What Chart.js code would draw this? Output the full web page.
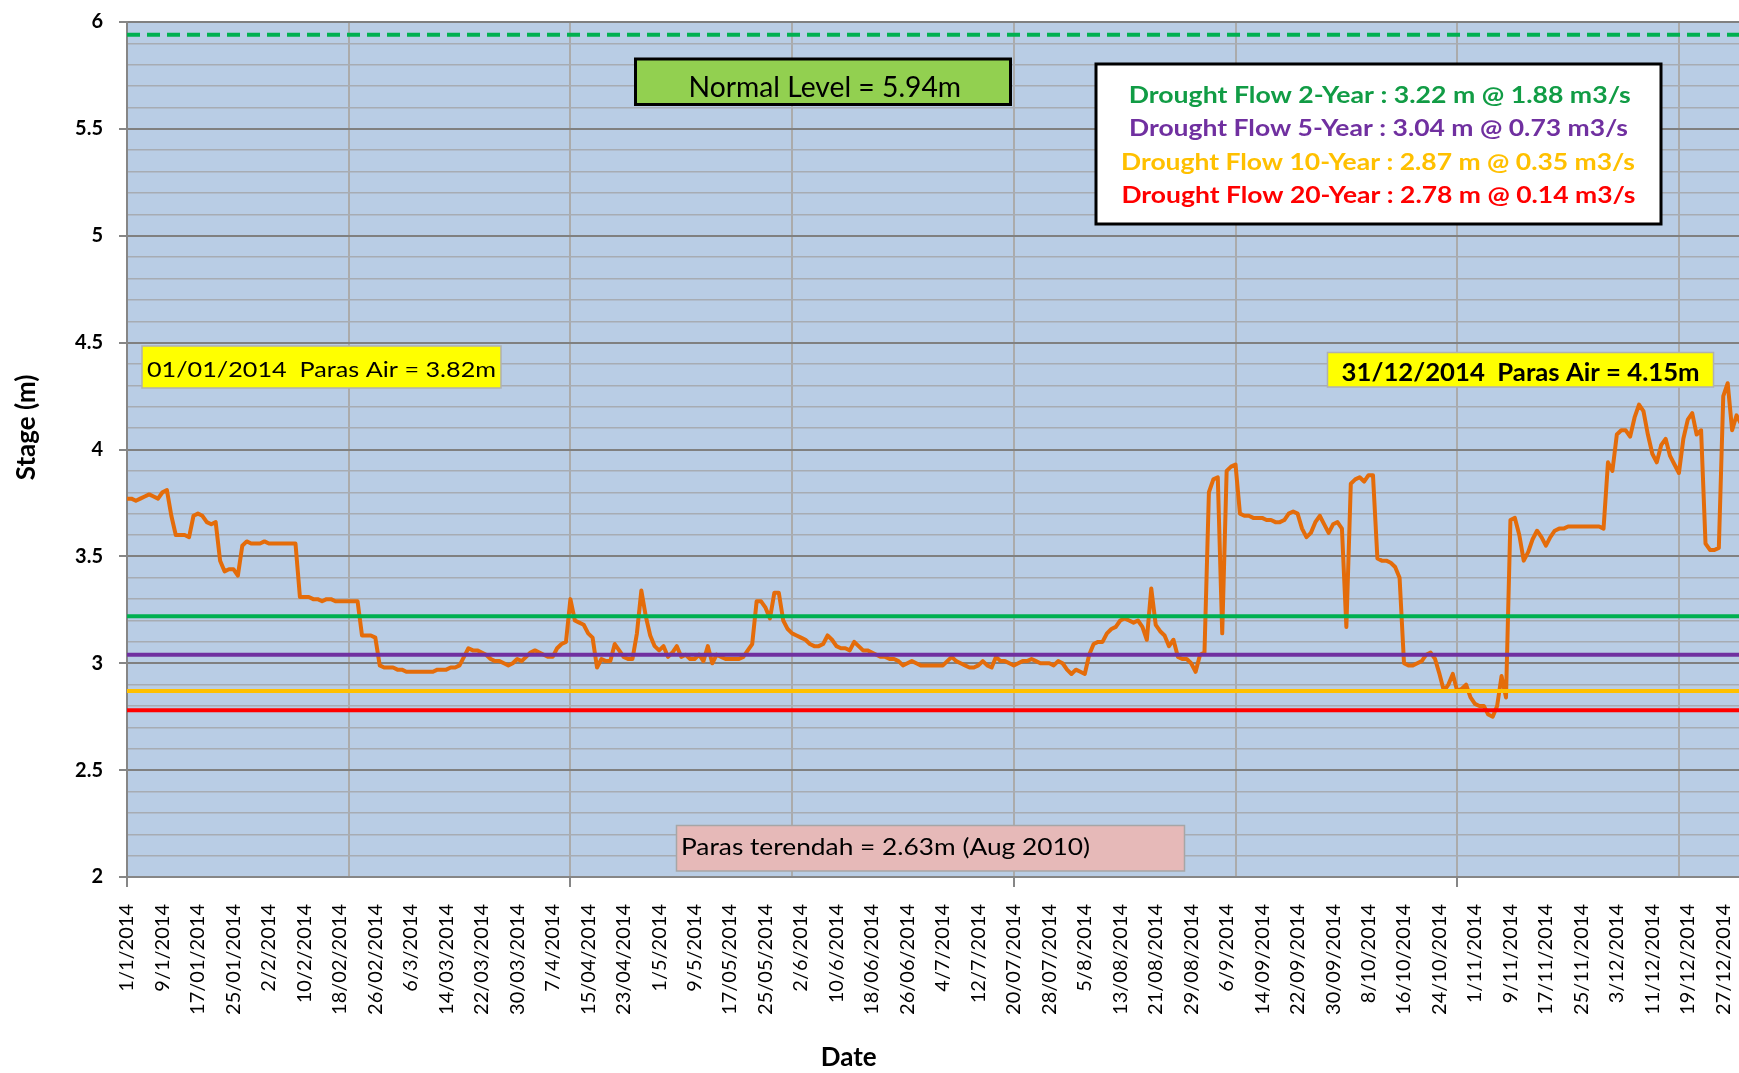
<!DOCTYPE html>
<html>
<head>
<meta charset="utf-8">
<title>Stage 2014</title>
<script src="https://cdn.jsdelivr.net/npm/chart.js@4.4.1/dist/chart.umd.min.js"></script>
<style>
  html, body { margin: 0; padding: 0; background: #fff; overflow: hidden; }
  canvas { display: block; }
</style>
</head>
<body>
<canvas id="stageChart" width="1741" height="1073"></canvas>
<script>
// ================= DATA =================
// daily stage (m), 1 Jan 2014 .. 31 Dec 2014, one array per month
const stageJan = [3.77,3.77,3.76,3.77,3.78,3.79,3.78,3.77,3.80,3.81, 3.69,3.60,3.60,3.60,3.59,3.69,3.70,3.69,3.66,3.65, 3.66,3.48,3.43,3.44,3.44,3.41,3.55,3.57,3.56,3.56, 3.56];
const stageFeb = [3.57,3.56,3.56,3.56,3.56,3.56,3.56,3.56, 3.31,3.31,3.31,3.30,3.30,3.29,3.30,3.30,3.29,3.29,3.29,3.29,3.29,3.29, 3.13,3.13,3.13,3.12, 2.99,2.98];
const stageMar = [2.98,2.98,2.97,2.97,2.96,2.96,2.96,2.96,2.96,2.96, 2.96,2.97,2.97,2.97,2.98,2.98,2.99,3.03,3.07,3.06, 3.06,3.05,3.04,3.02,3.01,3.01,3.00,2.99,3.00,3.02, 3.01];
const stageApr = [3.03,3.05,3.06,3.05,3.04,3.03,3.03,3.07,3.09,3.10, 3.30,3.20,3.19,3.18,3.14,3.12,2.98,3.02,3.01,3.01, 3.09,3.06,3.03,3.02,3.02,3.14,3.34,3.22,3.13,3.08];
const stageMay = [3.06,3.08,3.03,3.05,3.08,3.03,3.04,3.02,3.02,3.04, 3.01,3.08,3.00,3.04,3.03,3.02,3.02,3.02,3.02,3.03, 3.06,3.09,3.29,3.29,3.26,3.21,3.33,3.33,3.20,3.16, 3.14];
const stageJun = [3.13,3.12,3.11,3.09,3.08,3.08,3.09,3.13,3.11, 3.08,3.07,3.07,3.06,3.10,3.08,3.06,3.06,3.05,3.04, 3.03,3.03,3.02,3.02,3.01,2.99,3.00,3.01,3.00,2.99, 2.99];
const stageJul = [2.99,2.99,2.99,2.99,3.01,3.03,3.01,3.00,2.99, 2.98,2.98,2.99,3.01,2.99,2.98,3.03,3.01,3.01,3.00, 2.99,3.00,3.01,3.01,3.02,3.01,3.00,3.00,3.00,2.99, 3.01,3.00];
const stageAug = [2.97,2.95,2.97,2.96,2.95,3.04,3.09,3.10, 3.10,3.14,3.16,3.17,3.20,3.21,3.20,3.19,3.20,3.17, 3.11,3.35,3.18,3.15,3.13,3.08,3.11,3.03,3.02,3.02, 3.00,2.96,3.04];
const stageSep = [3.05,3.80,3.86,3.87,3.14,3.90,3.92, 3.93,3.70,3.69,3.69,3.68,3.68,3.68,3.67,3.67,3.66, 3.66,3.67,3.70,3.71,3.70,3.63,3.59,3.61,3.66,3.69, 3.65,3.61,3.65];
const stageOct = [3.66,3.63,3.17,3.84,3.86,3.87,3.85, 3.88,3.88,3.49,3.48,3.48,3.47,3.45,3.40,3.00,2.99, 2.99,3.00,3.01,3.04,3.05,3.02,2.95,2.87,2.90,2.95, 2.87,2.88,2.90,2.84];
const stageNov = [2.81,2.80,2.80,2.76,2.75,2.80, 2.94,2.84,3.67,3.68,3.60,3.48,3.52,3.58,3.62,3.59, 3.55,3.59,3.62,3.63,3.63,3.64,3.64,3.64,3.64,3.64, 3.64,3.64,3.64,3.63];
const stageDec = [3.94,3.90,4.07,4.09,4.09,4.06, 4.15,4.21,4.18,4.07,3.98,3.94,4.02,4.05,3.97,3.93, 3.89,4.05,4.14,4.17,4.07,4.09,3.56,3.53,3.53,3.54, 4.25,4.31,4.09,4.16,4.12];

// x tick labels, one every 8 days
const dateLabels = ['1/1/2014','9/1/2014','17/01/2014','25/01/2014','2/2/2014','10/2/2014','18/02/2014','26/02/2014',
  '6/3/2014','14/03/2014','22/03/2014','30/03/2014','7/4/2014','15/04/2014','23/04/2014','1/5/2014','9/5/2014',
  '17/05/2014','25/05/2014','2/6/2014','10/6/2014','18/06/2014','26/06/2014','4/7/2014','12/7/2014','20/07/2014',
  '28/07/2014','5/8/2014','13/08/2014','21/08/2014','29/08/2014','6/9/2014','14/09/2014','22/09/2014','30/09/2014',
  '8/10/2014','16/10/2014','24/10/2014','1/11/2014','9/11/2014','17/11/2014','25/11/2014','3/12/2014','11/12/2014',
  '19/12/2014','27/12/2014'];
const labelEvery = 8;

// reference levels (m)
const normalLevel = 5.94;
const droughtLevels = [3.22, 3.04, 2.87, 2.78];          // 2, 5, 10, 20 year
const droughtColors = ['#00b050', '#7030a0', '#ffc000', '#ff0000'];
const droughtTexts = [
  'Drought Flow 2-Year : 3.22 m @ 1.88 m3/s',
  'Drought Flow 5-Year : 3.04 m @ 0.73 m3/s',
  'Drought Flow 10-Year : 2.87 m @ 0.35 m3/s',
  'Drought Flow 20-Year : 2.78 m @ 0.14 m3/s'
];

const stage = [].concat(stageJan, stageFeb, stageMar, stageApr, stageMay, stageJun,
                        stageJul, stageAug, stageSep, stageOct, stageNov, stageDec);
const lastDay = stage.length - 1;

// ================= TEXT BOXES =================
const FONT = 'Lato, "Open Sans", sans-serif';

const boxes = [
  { x: 635.5, y: 59, w: 375, h: 45.5, fill: '#92d050', stroke: '#000', lw: 3 },   // normal level
  { x: 1096, y: 64, w: 565, h: 160, fill: '#fff', stroke: '#000', lw: 3 },        // drought flows
  { x: 142, y: 346, w: 359, h: 42, fill: '#ffff00', stroke: '#b0b0b0', lw: 1.5 }, // 01/01
  { x: 1327.5, y: 352.5, w: 386, h: 34.5, fill: '#ffff00', stroke: '#b0b0b0', lw: 1.5 }, // 31/12
  { x: 676.5, y: 825.5, w: 508, h: 45.5, fill: '#e6b9b8', stroke: '#a6a6a6', lw: 1.5 }   // lowest
];

const notes = [
  { text: 'Normal Level = 5.94m', x: 688.6, y: 96.7, w: 272.5, font: '28px ' + FONT, color: '#000' },
  { text: droughtTexts[0], x: 1128.7, y: 102.5, w: 502, font: 'bold 22px ' + FONT, color: '#119c45' },
  { text: droughtTexts[1], x: 1129, y: 136, w: 499, font: 'bold 22px ' + FONT, color: '#7030a0' },
  { text: droughtTexts[2], x: 1121, y: 169.5, w: 514, font: 'bold 22px ' + FONT, color: '#ffc000' },
  { text: droughtTexts[3], x: 1121.4, y: 203, w: 514, font: 'bold 22px ' + FONT, color: '#ff0000' },
  { text: '01/01/2014  Paras Air = 3.82m', x: 147, y: 377.3, w: 349, font: '22px ' + FONT, color: '#000' },
  { text: '31/12/2014  Paras Air = 4.15m', x: 1341.6, y: 380.7, w: 358, font: 'bold 24px ' + FONT, color: '#000' },
  { text: 'Paras terendah = 2.63m (Aug 2010)', x: 681, y: 855, w: 409, font: '23px ' + FONT, color: '#000' }
];

// squeeze/stretch text to the width it has in the original (Calibri is narrow)
function fitText(ctx, n) {
  ctx.font = n.font;
  ctx.fillStyle = n.color;
  ctx.textAlign = 'left';
  ctx.textBaseline = 'alphabetic';
  const w = ctx.measureText(n.text).width;
  ctx.save();
  ctx.translate(n.x, n.y);
  ctx.scale(n.w / w, 1);
  ctx.fillText(n.text, 0, 0);
  ctx.restore();
}

const chartBackground = {
  id: 'chartBackground',
  beforeDraw(chart) {
    const { ctx, chartArea: a } = chart;
    ctx.save();
    ctx.fillStyle = '#fff';
    ctx.fillRect(0, 0, chart.width, chart.height);
    ctx.fillStyle = '#b9cde5';
    ctx.fillRect(a.left, a.top, a.right - a.left, a.bottom - a.top);
    ctx.restore();
  }
};

const textBoxes = {
  id: 'textBoxes',
  afterDraw(chart) {
    const ctx = chart.ctx;
    ctx.save();
    boxes.forEach(b => {
      ctx.fillStyle = b.fill;
      ctx.fillRect(b.x, b.y, b.w, b.h);
      ctx.lineWidth = b.lw;
      ctx.strokeStyle = b.stroke;
      ctx.strokeRect(b.x, b.y, b.w, b.h);
    });
    notes.forEach(n => fitText(ctx, n));
    ctx.restore();
  }
};

// ================= CHART =================
function flatLine(level) {
  return [{ x: 0, y: level }, { x: lastDay, y: level }];
}

const datasets = [
  {
    label: 'Normal Level',
    data: flatLine(normalLevel),
    borderColor: '#00b050', borderWidth: 4, borderDash: [13, 7],
    order: 0
  }
].concat(droughtLevels.map((lv, i) => ({
  label: droughtTexts[i],
  data: flatLine(lv),
  borderColor: droughtColors[i], borderWidth: 4,
  order: 0
}))).concat([{
  label: 'Stage',
  data: stage.map((v, i) => ({ x: i, y: v })),
  borderColor: '#e46c0a', borderWidth: 4,
  borderJoinStyle: 'round', borderCapStyle: 'round',
  order: 1
}]);

const isMajorY = v => Math.round(v * 10) % 5 === 0;

new Chart(document.getElementById('stageChart'), {
  type: 'line',
  data: { datasets },
  options: {
    responsive: false,
    animation: false,
    devicePixelRatio: 1,
    layout: { padding: { top: 22, left: 0, right: 0, bottom: 0 } },
    elements: { point: { radius: 0 }, line: { tension: 0 } },
    plugins: { legend: { display: false }, tooltip: { enabled: false } },
    scales: {
      x: {
        type: 'linear', min: 0, max: lastDay,
        afterBuildTicks: ax => {
          const t = [];
          for (let v = 0; v <= lastDay; v += 2) t.push({ value: v });
          ax.ticks = t;
        },
        afterFit: ax => { ax.height = 196; ax.paddingLeft = 0; ax.paddingRight = 0; },
        ticks: {
          autoSkip: false, maxRotation: 90, minRotation: 90, padding: 17,
          color: '#000', font: { family: FONT, size: 20 },
          callback: v => (v % labelEvery === 0 ? dateLabels[v / labelEvery] : '')
        },
        grid: {
          color: c => (c.tick && c.tick.value > 0 && c.tick.value % 50 === 0 ? '#ababab' : 'transparent'),
          lineWidth: 2,
          tickLength: 10,
          tickColor: c => (c.tick && c.tick.value % 100 === 0 ? '#868686' : 'transparent'),
          tickWidth: 2
        },
        border: { display: true, color: '#868686', width: 2 },
        title: {
          display: true,
          text: 'Date' + ' '.repeat(27),
          color: '#000',
          font: { family: FONT, size: 26, weight: 'bold' },
          padding: { top: 0, bottom: 0 }
        }
      },
      y: {
        min: 2, max: 6,
        afterBuildTicks: ax => {
          const t = [];
          for (let i = 20; i <= 60; i++) t.push({ value: i / 10 });
          ax.ticks = t;
        },
        afterFit: ax => { ax.width = 127; ax.paddingTop = 0; ax.paddingBottom = 0; },
        ticks: {
          autoSkip: false, padding: 16, color: '#000',
          font: { family: FONT, size: 20, weight: 'bold' },
          callback: v => (isMajorY(v) ? String(Math.round(v * 10) / 10) : '')
        },
        grid: {
          color: c => (c.tick && isMajorY(c.tick.value) ? '#808080' : '#a7acb3'),
          lineWidth: c => (c.tick && isMajorY(c.tick.value) ? 2 : 1.5),
          tickLength: 8,
          tickColor: c => (c.tick && isMajorY(c.tick.value) ? '#868686' : 'transparent'),
          tickWidth: 2
        },
        border: { display: true, color: '#868686', width: 2 },
        title: {
          display: true,
          text: ' '.repeat(7) + 'Stage (m)',
          color: '#000',
          font: { family: FONT, size: 26, weight: 'bold' },
          padding: { top: 11, bottom: 0 }
        }
      }
    }
  },
  plugins: [chartBackground, textBoxes]
});
</script>
</body>
</html>
